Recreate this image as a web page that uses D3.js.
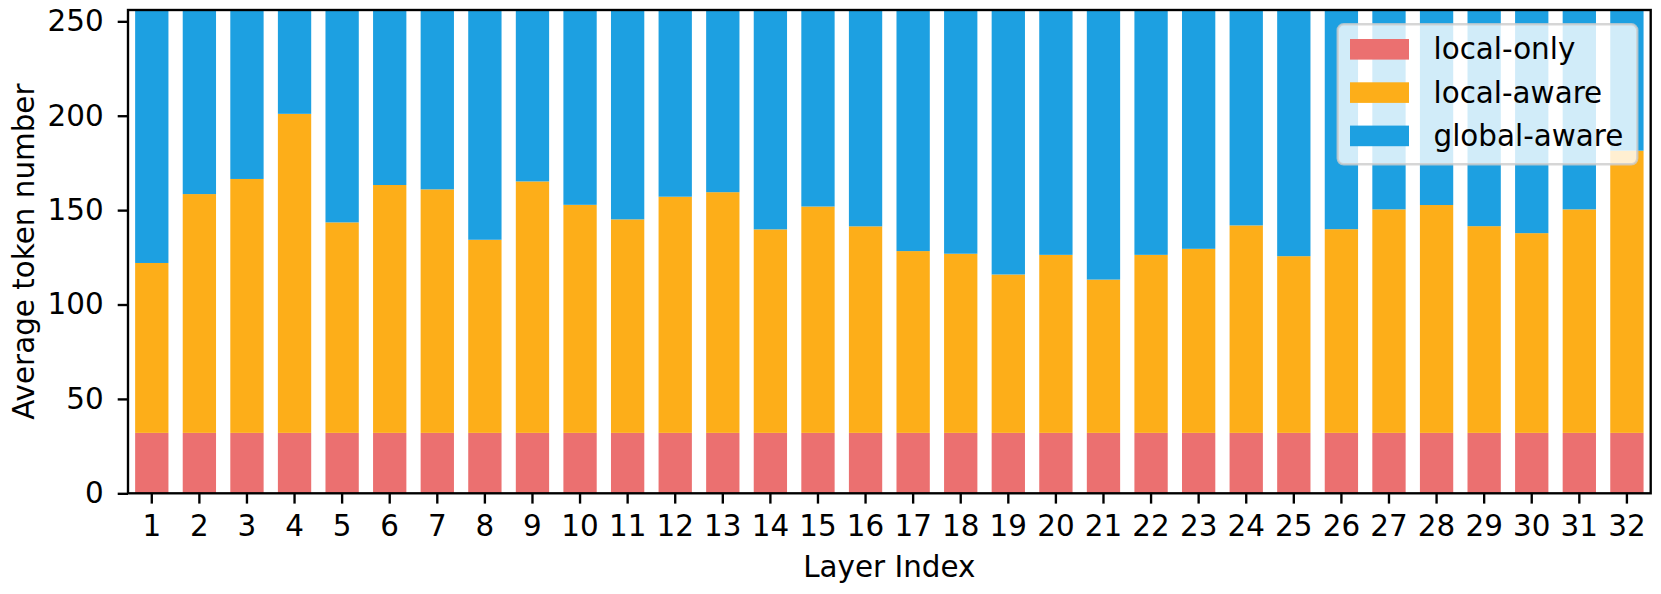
<!DOCTYPE html>
<html>
<head>
<meta charset="utf-8">
<script src="https://cdn.jsdelivr.net/npm/d3@7"></script>
<style>
  html, body { margin: 0; padding: 0; background: #fff; }
  svg { display: block; font-family: "DejaVu Sans", sans-serif; }
</style>
</head>
<body>
<svg id="chart" width="1661" height="594"></svg>
<script>
// ---- data ----
const layers = d3.range(1, 33);
const seriesNames = ["local-only", "local-aware", "global-aware"];
const localOnly = [32,32,32,32,32,32,32,32,32,32,32,32,32,32,32,32,32,32,32,32,32,32,32,32,32,32,32,32,32,32,32,32];
// cumulative top of local-aware (local-only + local-aware)
const localAwareTop = [122,158.5,166.5,201,143.5,163.3,161,134.3,165.2,152.8,145.1,157.1,159.5,139.8,151.9,141.4,128.3,126.9,115.9,126.3,113.2,126.3,129.5,141.9,125.6,139.9,150.4,152.7,141.5,137.8,150.4,181.5];
const totalTokens = 256;
const yTicks = [0, 50, 100, 150, 200, 250];
const colors = ["#EB7070", "#FDAE19", "#1DA0E1"];

// ---- layout ----
const svg = d3.select("#chart");
const mLeft = 128, mRight = 1650.7, mTop = 10, mBottom = 493.3;
const fontSize = 29.4;

const x = d3.scaleBand().domain(layers).range([mLeft, mRight]).paddingInner(0.3).paddingOuter(0.15);
const y = d3.scaleLinear().domain([0, totalTokens]).range([mBottom, mTop]);

const rows = layers.map((l, i) => ({
  layer: l,
  "local-only": localOnly[i],
  "local-aware": localAwareTop[i] - localOnly[i],
  "global-aware": totalTokens - localAwareTop[i]
}));
const stacked = d3.stack().keys(seriesNames)(rows);

svg.append("g").selectAll("g").data(stacked).join("g")
  .attr("fill", (d, i) => colors[i])
  .selectAll("rect").data(d => d).join("rect")
  .attr("x", d => x(d.data.layer))
  .attr("width", x.bandwidth())
  .attr("y", d => y(d[1]))
  .attr("height", d => y(d[0]) - y(d[1]));

// ---- axes ----
const xAxis = d3.axisBottom(x).tickSize(10.3).tickPadding(12);
const gx = svg.append("g").attr("transform", `translate(0,${mBottom})`).call(xAxis);
const yAxis = d3.axisLeft(y).tickValues(yTicks).tickSize(10.3).tickPadding(14);
const gy = svg.append("g").attr("transform", `translate(${mLeft},0)`).call(yAxis);
[gx, gy].forEach(g => {
  g.select(".domain").remove();
  g.selectAll(".tick line").attr("stroke", "#000").attr("stroke-width", 2.36);
  g.selectAll(".tick text").attr("fill", "#000")
    .style("font-size", fontSize + "px").style("font-family", "DejaVu Sans");
});

// spines
svg.append("rect")
  .attr("x", mLeft).attr("y", mTop)
  .attr("width", mRight - mLeft).attr("height", mBottom - mTop)
  .attr("fill", "none").attr("stroke", "#000").attr("stroke-width", 2.36);

// axis labels
svg.append("text")
  .attr("x", (mLeft + mRight) / 2).attr("y", 577.3)
  .attr("text-anchor", "middle")
  .style("font-size", fontSize + "px")
  .text("Layer Index");
svg.append("text")
  .attr("transform", `translate(33.5,${(mTop + mBottom) / 2}) rotate(-90)`)
  .attr("text-anchor", "middle")
  .style("font-size", fontSize + "px")
  .text("Average token number");

// ---- legend ----
const lg = svg.append("g");
lg.append("rect")
  .attr("x", 1337.7).attr("y", 24.3)
  .attr("width", 299.6).attr("height", 140)
  .attr("rx", 6).attr("ry", 6)
  .attr("fill", "#fff").attr("fill-opacity", 0.8)
  .attr("stroke", "#cccccc").attr("stroke-opacity", 0.8).attr("stroke-width", 2.36);
seriesNames.forEach((name, i) => {
  const base = 59.3 + i * 43.3;
  lg.append("rect")
    .attr("x", 1350).attr("y", base - 20.3)
    .attr("width", 59).attr("height", 20.6)
    .attr("fill", colors[i]);
  lg.append("text")
    .attr("x", 1433.5).attr("y", base)
    .style("font-size", fontSize + "px")
    .text(name);
});
</script>
</body>
</html>
